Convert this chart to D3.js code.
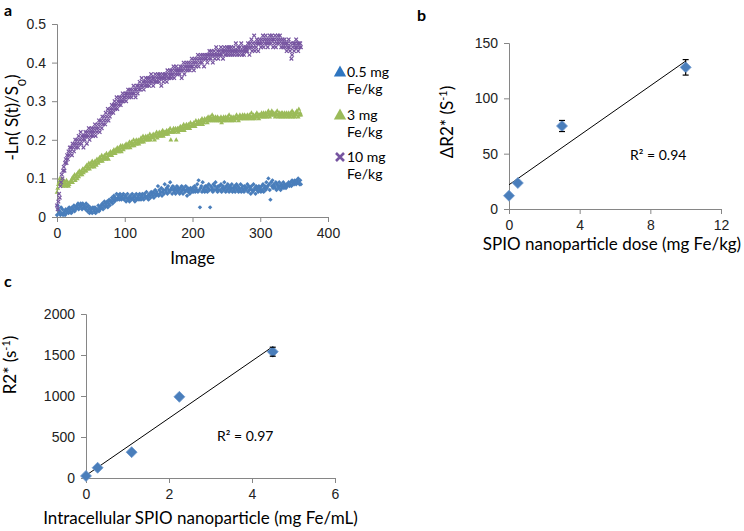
<!DOCTYPE html>
<html>
<head>
<meta charset="utf-8">
<script src="https://cdn.jsdelivr.net/npm/d3@7"></script>
<style>
  body { margin: 0; background: #fff; }
  svg { font-family: Lato, "Open Sans", sans-serif; }
  .axis path, .axis line { stroke: #868686; }
  .axis text { font-size: 14px; fill: #222; }
</style>
</head>
<body>
<div class="chart"></div>
<script>
// panel a: one value per image, image 0..360
var dose05 = [
  .005,.03,.02,.01,.015,.005,.025,.01,.02,.005,.01,.015,.005,.02,.01,.015,.02,.01,.025,.015,
  .02,.01,.025,.015,.02,.03,.015,.025,.02,.03,.025,.035,.02,.03,.025,.035,.03,.02,.035,.025,
  .03,.025,.02,.035,.025,.015,.03,.02,.01,.025,.015,.02,.01,.025,.02,.015,.025,.01,.02,.015,
  .02,.03,.015,.025,.02,.03,.025,.035,.02,.03,.04,.025,.035,.03,.04,.025,.035,.045,.03,.04,
  .04,.05,.035,.045,.055,.04,.05,.045,.06,.045,.05,.055,.045,.06,.05,.045,.055,.05,.06,.045,
  .05,.055,.04,.05,.06,.045,.05,.04,.055,.05,.045,.06,.05,.045,.055,.04,.05,.06,.045,.05,
  .055,.045,.06,.05,.045,.055,.06,.05,.045,.06,.055,.05,.065,.05,.055,.045,.06,.055,.05,.065,
  .06,.055,.065,.05,.06,.07,.055,.065,.06,.08,.055,.07,.06,.065,.075,.055,.065,.07,.06,.085,
  .07,.065,.075,.06,.08,.07,.065,.09,.07,.075,.06,.08,.07,.065,.075,.06,.07,.08,.065,.075,
  .07,.06,.075,.065,.08,.07,.06,.075,.07,.065,.08,.07,.055,.075,.065,.07,.06,.075,.07,.065,
  .075,.065,.07,.08,.065,.075,.07,.085,.065,.095,.07,.025,.075,.08,.065,.09,.07,.075,.065,.08,
  .07,.08,.065,.075,.085,.07,.025,.08,.07,.075,.065,.085,.07,.08,.09,.07,.075,.065,.08,.07,
  .08,.07,.085,.065,.075,.08,.07,.09,.075,.065,.08,.07,.085,.075,.065,.08,.07,.075,.085,.065,
  .075,.07,.08,.065,.075,.085,.07,.08,.065,.075,.07,.085,.065,.075,.08,.07,.065,.08,.075,.07,
  .075,.085,.065,.08,.07,.075,.06,.08,.07,.065,.085,.07,.075,.06,.08,.07,.075,.065,.08,.07,
  .075,.065,.08,.07,.085,.065,.075,.08,.07,.09,.075,.08,.1,.085,.07,.045,.09,.08,.095,.075,
  .085,.08,.075,.09,.07,.085,.08,.075,.09,.08,.07,.085,.075,.08,.09,.075,.085,.08,.075,.085,
  .08,.085,.09,.08,.085,.09,.08,.095,.085,.09,.085,.095,.09,.085,.095,.09,.1,.09,.085,.095,.085
];
var dose3 = [
  .065,.075,.085,.09,.1,.095,.085,.1,.09,.08,.095,.085,.09,.08,.095,.085,.09,.08,.085,.09,
  .09,.095,.1,.09,.105,.1,.11,.095,.105,.11,.1,.115,.105,.12,.11,.115,.12,.11,.125,.115,
  .125,.12,.13,.12,.135,.125,.13,.14,.125,.135,.14,.13,.145,.135,.14,.13,.145,.14,.135,.15,
  .145,.14,.15,.155,.145,.15,.16,.145,.155,.15,.16,.155,.15,.165,.155,.16,.15,.165,.16,.17,
  .165,.16,.17,.165,.175,.17,.165,.175,.17,.18,.175,.17,.18,.175,.185,.17,.18,.185,.175,.18,
  .185,.18,.19,.185,.18,.19,.185,.195,.18,.19,.195,.185,.19,.2,.185,.195,.19,.2,.19,.195,
  .2,.19,.195,.2,.205,.195,.2,.21,.195,.205,.2,.21,.2,.205,.21,.2,.205,.215,.2,.21,
  .21,.205,.215,.21,.2,.215,.21,.22,.205,.215,.21,.22,.215,.21,.22,.215,.225,.21,.215,.22,
  .22,.215,.225,.22,.215,.225,.22,.23,.2,.22,.225,.22,.23,.225,.22,.23,.2,.225,.23,.22,
  .23,.225,.235,.23,.225,.235,.23,.24,.225,.235,.23,.24,.235,.23,.24,.235,.23,.245,.235,.24,
  .24,.235,.245,.24,.235,.25,.24,.245,.24,.25,.245,.24,.25,.245,.255,.24,.25,.245,.255,.25,
  .25,.255,.245,.26,.25,.255,.26,.25,.255,.265,.25,.26,.255,.25,.26,.255,.25,.26,.255,.25,
  .255,.25,.26,.245,.255,.25,.26,.255,.25,.26,.255,.25,.26,.255,.265,.25,.255,.26,.25,.255,
  .26,.255,.25,.26,.255,.265,.255,.26,.25,.26,.265,.255,.26,.255,.265,.26,.255,.265,.26,.255,
  .26,.265,.255,.26,.265,.255,.26,.27,.26,.255,.265,.26,.255,.265,.26,.27,.26,.265,.255,.265,
  .265,.26,.27,.265,.26,.27,.265,.26,.27,.265,.26,.27,.275,.265,.26,.27,.265,.275,.27,.265,
  .27,.265,.26,.27,.265,.275,.265,.26,.27,.265,.26,.27,.265,.27,.26,.265,.27,.26,.265,.27,
  .265,.26,.27,.265,.26,.27,.265,.275,.26,.27,.265,.26,.27,.265,.275,.27,.26,.28,.265,.27,.265
];
var dose10 = [
  .03,.02,.04,.06,.05,.08,.09,.11,.10,.12,.13,.12,.14,.15,.14,.16,.15,.17,.16,.18,
  .17,.18,.16,.19,.18,.17,.19,.20,.18,.19,.20,.18,.21,.19,.20,.22,.19,.21,.20,.18,
  .21,.20,.22,.21,.19,.22,.21,.23,.20,.22,.21,.23,.22,.21,.23,.22,.24,.21,.23,.22,
  .24,.23,.25,.22,.24,.25,.23,.26,.24,.25,.26,.24,.27,.25,.26,.28,.25,.27,.26,.28,
  .27,.29,.28,.27,.29,.30,.28,.29,.31,.28,.30,.29,.31,.30,.29,.31,.30,.32,.30,.31,
  .31,.32,.30,.32,.31,.33,.32,.31,.33,.32,.31,.33,.32,.34,.32,.33,.31,.33,.34,.32,
  .34,.33,.35,.33,.34,.36,.34,.35,.33,.35,.34,.36,.35,.34,.36,.35,.34,.36,.35,.37,
  .35,.36,.34,.36,.35,.37,.35,.36,.35,.37,.36,.35,.37,.36,.34,.36,.37,.35,.36,.37,
  .36,.37,.35,.38,.36,.37,.36,.38,.37,.36,.38,.37,.39,.36,.38,.37,.39,.38,.37,.38,
  .38,.37,.39,.38,.36,.39,.38,.40,.37,.39,.38,.40,.39,.38,.40,.39,.38,.40,.39,.41,
  .39,.40,.38,.41,.40,.39,.41,.40,.42,.39,.41,.40,.42,.41,.40,.42,.41,.39,.42,.41,
  .41,.42,.40,.42,.41,.43,.42,.41,.43,.42,.40,.42,.43,.41,.42,.44,.42,.43,.41,.42,
  .43,.42,.44,.42,.43,.41,.43,.44,.42,.43,.42,.44,.43,.42,.44,.43,.42,.44,.43,.42,
  .43,.44,.42,.43,.45,.43,.42,.44,.43,.42,.44,.43,.45,.42,.43,.44,.42,.43,.44,.43,
  .44,.43,.45,.44,.42,.45,.44,.46,.43,.45,.44,.47,.43,.45,.44,.46,.45,.43,.45,.46,
  .45,.44,.46,.45,.47,.44,.46,.45,.47,.46,.45,.44,.46,.45,.47,.46,.45,.47,.46,.44,
  .46,.45,.47,.44,.46,.45,.47,.46,.45,.47,.46,.44,.45,.46,.44,.45,.46,.44,.45,.43,
  .45,.44,.46,.44,.43,.45,.41,.42,.44,.45,.43,.45,.44,.46,.44,.45,.43,.45,.44,.45,.44
];
var legendA = ["0.5 mg|Fe/kg", "3 mg|Fe/kg", "10 mg|Fe/kg"];
var ticksAx = [0, 100, 200, 300, 400];
var ticksAy = [0, 0.1, 0.2, 0.3, 0.4, 0.5];

// panel b
var doseB = [0, 0.5, 3, 10];
var r2B = [12, 23.5, 75, 128];
var errB = [0, 0, 5, 7];
var ticksBx = [0, 4, 8, 12];
var ticksBy = [0, 50, 100, 150];

// panel c
var concC = [0, 0.28, 1.1, 2.25, 4.5];
var r2C = [25, 125, 315, 990, 1540];
var errC = [0, 0, 0, 0, 55];
var ticksCx = [0, 2, 4, 6];
var ticksCy = [0, 500, 1000, 1500, 2000];

var blue = "#4a7ebb", green = "#9bbb59", purple = "#7654a0";

var svg = d3.select(".chart").append("svg")
  .attr("width", 744).attr("height", 531);

function diamond(r) { return "M0," + (-r) + "L" + r + ",0L0," + r + "L" + (-r) + ",0Z"; }
function triangle(r) { return "M0," + (-r) + "L" + (r * 0.95) + "," + (r * 0.7) + "L" + (-r * 0.95) + "," + (r * 0.7) + "Z"; }
function cross(r) { return "M" + (-r) + "," + (-r) + "L" + r + "," + r + "M" + r + "," + (-r) + "L" + (-r) + "," + r; }

function axes(g, x, y, tx, ty, h, fmtx, fmty) {
  g.append("g").attr("class", "axis")
    .attr("transform", "translate(0," + h + ")")
    .call(d3.axisBottom(x).tickValues(tx).tickSize(5).tickPadding(6).tickFormat(fmtx));
  g.append("g").attr("class", "axis")
    .call(d3.axisLeft(y).tickValues(ty).tickSize(5).tickPadding(6).tickFormat(fmty));
}

function panelLetter(t, x, y) {
  svg.append("text").attr("x", x).attr("y", y).attr("font-weight", "bold")
    .attr("font-size", 16).text(t);
}

// ---------- panel a ----------
var ga = svg.append("g").attr("transform", "translate(57,24)");
var wa = 271, ha = 193;
var xa = d3.scaleLinear().domain([0, 400]).range([0, wa]);
var ya = d3.scaleLinear().domain([0, 0.5]).range([ha, 0]);
axes(ga, xa, ya, ticksAx, ticksAy, ha, d3.format("d"), function (d) { return d === 0 ? "0" : d3.format(".1f")(d); });

var seriesA = [
  { vals: dose05, color: blue, shape: "dia" },
  { vals: dose3, color: green, shape: "tri" },
  { vals: dose10, color: purple, shape: "x" }
];
seriesA.forEach(function (s) {
  var sel = ga.append("g").selectAll("path").data(s.vals).enter().append("path")
    .attr("transform", function (d, i) { return "translate(" + xa(i) + "," + ya(d) + ")"; });
  if (s.shape === "x") sel.attr("d", cross(1.8)).attr("stroke", s.color).attr("stroke-width", 1.2).attr("fill", "none");
  if (s.shape === "tri") sel.attr("d", triangle(2.5)).attr("fill", s.color);
  if (s.shape === "dia") sel.attr("d", diamond(2.2)).attr("fill", s.color);
});

ga.append("text").attr("x", wa / 2).attr("y", 240).attr("text-anchor", "middle")
  .attr("font-size", 17).text("Image");
ga.append("text").attr("transform", "translate(-39," + (ha / 2 - 3) + ") rotate(-90)")
  .attr("text-anchor", "middle").attr("font-size", 17)
  .html('-Ln( S(t)/S<tspan baseline-shift="sub" font-size="12">0</tspan>)');

panelLetter("a", 4, 16);

// legend a
var legColors = ["#2e75c0", green, purple];
var legY = [72, 115, 157];
legendA.forEach(function (l, i) {
  var lg = svg.append("g").attr("transform", "translate(340," + legY[i] + ")");
  if (i < 2) lg.append("path").attr("d", triangle(6.5)).attr("fill", legColors[i]);
  else lg.append("path").attr("d", cross(4)).attr("stroke", legColors[i]).attr("stroke-width", 2.6).attr("fill", "none");
  var parts = l.split("|");
  lg.append("text").attr("x", 7).attr("y", 5).attr("font-size", 14).text(parts[0]);
  lg.append("text").attr("x", 7).attr("y", 22).attr("font-size", 14).text(parts[1]);
});

// least squares trend line
function fit(xs, ys) {
  var mx = d3.mean(xs), my = d3.mean(ys), sxy = 0, sxx = 0;
  xs.forEach(function (x, i) { sxy += (x - mx) * (ys[i] - my); sxx += (x - mx) * (x - mx); });
  var b = sxy / sxx;
  return { slope: b, icept: my - b * mx };
}

function scatterPanel(g, x, y, xs, ys, errs) {
  var f = fit(xs, ys);
  var x0 = d3.min(xs), x1 = d3.max(xs);
  g.append("line").attr("x1", x(x0)).attr("y1", y(f.icept + f.slope * x0))
    .attr("x2", x(x1)).attr("y2", y(f.icept + f.slope * x1))
    .attr("stroke", "#000").attr("stroke-width", 1);
  g.append("g").selectAll("path").data(xs).enter().append("path")
    .attr("transform", function (d, i) { return "translate(" + x(d) + "," + y(ys[i]) + ")"; })
    .attr("d", diamond(5.5)).attr("fill", blue).attr("stroke", "#6f9bd0").attr("stroke-width", 0.8);
  xs.forEach(function (xv, i) {
    if (!errs[i]) return;
    var cx = x(xv), lo = y(ys[i] - errs[i]), hi = y(ys[i] + errs[i]);
    var eb = g.append("g").attr("stroke", "#000").attr("stroke-width", 1.2);
    eb.append("line").attr("x1", cx).attr("x2", cx).attr("y1", hi).attr("y2", y(ys[i]) - 5);
    eb.append("line").attr("x1", cx).attr("x2", cx).attr("y1", lo).attr("y2", y(ys[i]) + 5);
    eb.append("line").attr("x1", cx - 3).attr("x2", cx + 3).attr("y1", lo).attr("y2", lo);
    eb.append("line").attr("x1", cx - 3).attr("x2", cx + 3).attr("y1", hi).attr("y2", hi);
  });
}

// ---------- panel b ----------
var gb = svg.append("g").attr("transform", "translate(509,43)");
var wb = 212, hb = 166;
var xb = d3.scaleLinear().domain([0, 12]).range([0, wb]);
var yb = d3.scaleLinear().domain([0, 150]).range([hb, 0]);
axes(gb, xb, yb, ticksBx, ticksBy, hb, d3.format("d"), d3.format("d"));
scatterPanel(gb, xb, yb, doseB, r2B, errB);
gb.append("text").attr("x", 121).attr("y", 117).attr("font-size", 14).html("R² = 0.94");
gb.append("text").attr("x", wb / 2 - 3).attr("y", 207).attr("text-anchor", "middle")
  .attr("font-size", 17).text("SPIO nanoparticle dose (mg Fe/kg)");
gb.append("text").attr("transform", "translate(-56," + (hb / 2 - 4) + ") rotate(-90)")
  .attr("text-anchor", "middle").attr("font-size", 17)
  .html('ΔR2* (S<tspan baseline-shift="super" font-size="11">-1</tspan>)');
panelLetter("b", 417, 21);

// ---------- panel c ----------
var gc = svg.append("g").attr("transform", "translate(86,314)");
var wc = 249, hc = 164;
var xc = d3.scaleLinear().domain([0, 6]).range([0, wc]);
var yc = d3.scaleLinear().domain([0, 2000]).range([hc, 0]);
axes(gc, xc, yc, ticksCx, ticksCy, hc, d3.format("d"), d3.format("d"));
scatterPanel(gc, xc, yc, concC, r2C, errC);
gc.append("text").attr("x", 131).attr("y", 127).attr("font-size", 14).html("R² = 0.97");
gc.append("text").attr("x", wc / 2 - 10).attr("y", 210).attr("text-anchor", "middle")
  .attr("font-size", 17).text("Intracellular SPIO nanoparticle (mg Fe/mL)");
gc.append("text").attr("transform", "translate(-70," + (hc / 2 - 31) + ") rotate(-90)")
  .attr("text-anchor", "middle").attr("font-size", 17)
  .html('R2* (s<tspan baseline-shift="super" font-size="11">-1</tspan>)');
panelLetter("c", 4, 287);
</script>
</body>
</html>
